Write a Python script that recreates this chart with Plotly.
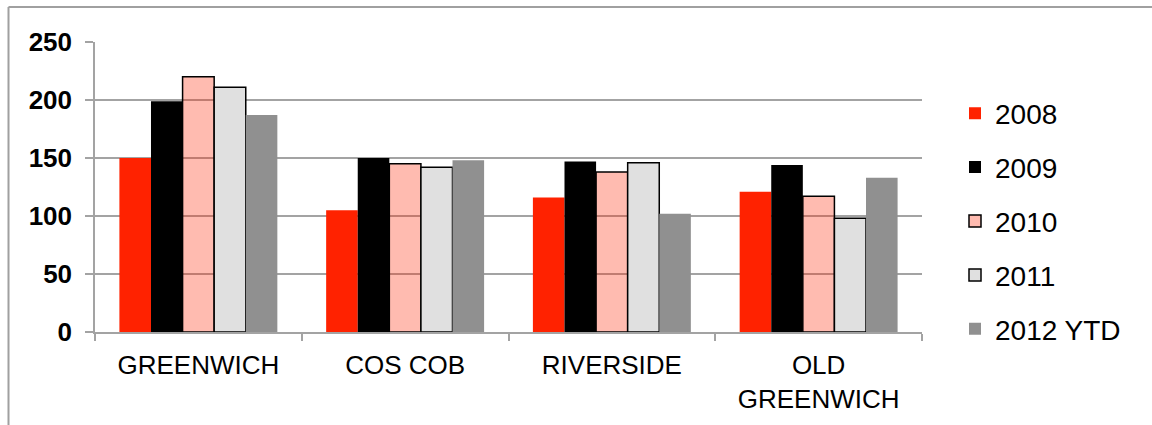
import plotly.graph_objects as go

categories = ["GREENWICH", "COS COB", "RIVERSIDE", "OLD<br>GREENWICH"]
series_names = ["2008", "2009", "2010", "2011", "2012 YTD"]
v2008 = [150, 105, 116, 121]
v2009 = [199, 150, 147, 144]
v2010 = [220, 145, 138, 117]
v2011 = [211, 142, 146, 98]
v2012 = [187, 148, 102, 133]
y_ticks = [0, 50, 100, 150, 200, 250]

values = [v2008, v2009, v2010, v2011, v2012]
fills = ["#FF2200", "#000000", "rgba(255,40,5,0.316)", "#E0E0E0", "#909090"]
outlines = [0, 0, 1.5, 1.5, 0]

FONT = "Liberation Sans, Arial, sans-serif"
GRID = "#A3A3A3"

fig = go.Figure()
for name, vals, fc, lw in zip(series_names, values, fills, outlines):
    fig.add_trace(go.Bar(
        x=categories, y=vals, name=name, legendgroup=name,
        marker=dict(color=fc, line=dict(color="#000000", width=lw)),
    ))

L, R, T, B = 95, 230, 42, 93
W, H = 1152, 425
pw, ph = W - L - R, H - T - B

def px(x):
    return (x - L) / pw

def py(y):
    return (H - B - y) / ph

fig.update_layout(
    width=W, height=H,
    margin=dict(l=L, r=R, t=T, b=B, pad=0),
    paper_bgcolor="white", plot_bgcolor="white",
    barmode="group", bargap=0.236, bargroupgap=0,
    font=dict(family=FONT, color="#000000"),
    showlegend=True,
    legend=dict(
        x=px(955), xanchor="left", y=py(221), yanchor="middle",
        font=dict(family=FONT, size=28, color="#000000"),
        traceorder="grouped", tracegroupgap=14.5,
        bgcolor="rgba(0,0,0,0)", itemwidth=30,
    ),
    xaxis=dict(
        showline=True, linecolor=GRID, linewidth=1.5,
        ticks="outside", tickson="boundaries", ticklen=7, tickcolor=GRID, tickwidth=1.5,
        tickfont=dict(family=FONT, size=26, color="#000000"),
        showgrid=False, ticklabelstandoff=9,
    ),
    yaxis=dict(
        range=[0, 250], tickvals=y_ticks,
        showline=True, linecolor=GRID, linewidth=1.5,
        ticks="outside", ticklen=8, tickcolor=GRID, tickwidth=1.5,
        tickfont=dict(family=FONT, size=26, color="#000000", weight="bold"),
        showgrid=True, gridcolor=GRID, gridwidth=1.5, zeroline=False,
        ticklabelstandoff=8,
    ),
    shapes=[
        dict(type="line", xref="paper", yref="paper",
             x0=px(8.5), x1=px(W + 5), y0=py(7), y1=py(7),
             line=dict(color="#A0A0A0", width=2)),
        dict(type="line", xref="paper", yref="paper",
             x0=px(8.5), x1=px(8.5), y0=py(7), y1=py(H + 5),
             line=dict(color="#A0A0A0", width=2)),
    ],
)

fig.write_html(
    "out.html",
    config={"displayModeBar": False},
    post_script="document.body.style.margin='0';document.body.style.overflow='hidden';",
)
